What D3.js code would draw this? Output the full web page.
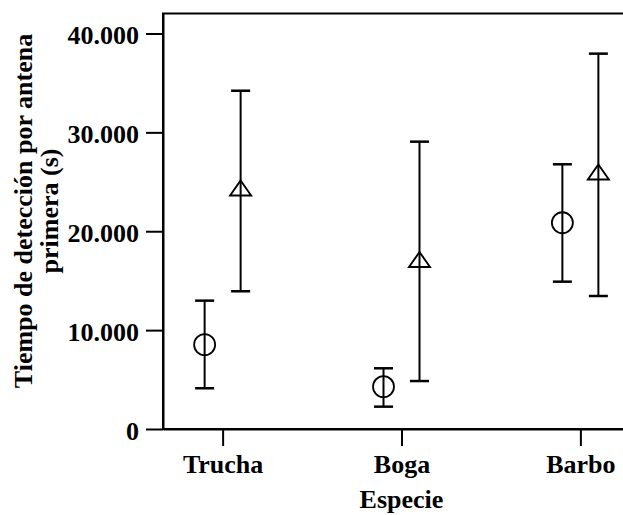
<!DOCTYPE html>
<html>
<head>
<meta charset="utf-8">
<script src="https://cdn.jsdelivr.net/npm/d3@7"></script>
<style>
    body { margin: 0; background: #fff; }
    svg text { font-family: "Liberation Serif", "Times New Roman", serif; font-weight: bold; fill: #000; }
</style>
</head>
<body>
<div id="chart"></div>
<script>
// Datos
const especies = ["Trucha", "Boga", "Barbo"];

// serie circulo
const circuloMedia = [8530, 4280, 20860];
const circuloInf = [4120, 2260, 14900];
const circuloSup = [12980, 6140, 26770];

// serie triangulo
const trianguloMedia = [24370, 17140, 25990];
const trianguloInf = [13930, 4850, 13450];
const trianguloSup = [34210, 29060, 37960];

const yTicks = [0, 10000, 20000, 30000, 40000];

const width = 623;
const height = 515;
const margin = { top: 13.5, left: 163, bottom: 86, right: -17 };

const svg = d3.select("#chart")
    .append("svg")
    .attr("width", width)
    .attr("height", height);

const x = d3.scalePoint()
    .domain(especies)
    .range([margin.left, width - margin.right])
    .padding(1 / 3);

const y = d3.scaleLinear()
    .domain([0, 42020])
    .range([height - margin.bottom, margin.top]);

const fmt = d3.formatLocale({ decimal: ",", thousands: ".", grouping: [3], currency: ["", ""] }).format(",");

// marco
svg.append("rect")
    .attr("x", margin.left)
    .attr("y", margin.top)
    .attr("width", width - margin.right - margin.left)
    .attr("height", y(0) - margin.top)
    .attr("fill", "none")
    .attr("stroke", "#000")
    .attr("stroke-width", 2);

// ejes
const gy = svg.append("g")
    .attr("transform", `translate(${margin.left},0)`)
    .call(d3.axisLeft(y).tickValues(yTicks).tickSize(17).tickSizeOuter(0).tickPadding(7).tickFormat(fmt));

const gx = svg.append("g")
    .attr("transform", `translate(0,${y(0)})`)
    .call(d3.axisBottom(x).tickSize(17).tickSizeOuter(0).tickPadding(9));

[gy, gx].forEach(g => {
    g.select(".domain").attr("stroke-width", 2);
    g.selectAll(".tick line").attr("stroke-width", 2);
    g.selectAll(".tick text").style("font-size", "26px");
});
gy.selectAll(".tick text").attr("dy", "0.4em");

// barras de error + marcadores
function dibujarSerie(media, inf, sup, dx, forma) {
    const g = svg.append("g");
    const cap = 9.5;

    g.selectAll("line.vert")
        .data(especies)
        .enter()
        .append("line")
        .attr("x1", d => x(d) + dx)
        .attr("x2", d => x(d) + dx)
        .attr("y1", (d, i) => y(inf[i]))
        .attr("y2", (d, i) => y(sup[i]))
        .attr("stroke", "#000")
        .attr("stroke-width", 2);

    [inf, sup].forEach(vals => {
        g.selectAll(null)
            .data(especies)
            .enter()
            .append("line")
            .attr("x1", d => x(d) + dx - cap)
            .attr("x2", d => x(d) + dx + cap)
            .attr("y1", (d, i) => y(vals[i]))
            .attr("y2", (d, i) => y(vals[i]))
            .attr("stroke", "#000")
            .attr("stroke-width", 2.5);
    });

    if (forma === "circulo") {
        g.selectAll("circle")
            .data(especies)
            .enter()
            .append("circle")
            .attr("cx", d => x(d) + dx)
            .attr("cy", (d, i) => y(media[i]))
            .attr("r", 10.5)
            .attr("fill", "none")
            .attr("stroke", "#000")
            .attr("stroke-width", 1.8);
    } else {
        const w = 10.5, h = 7.5;
        g.selectAll("path")
            .data(especies)
            .enter()
            .append("path")
            .attr("d", (d, i) => {
                const cx = x(d) + dx, cy = y(media[i]);
                return `M${cx},${cy - h}L${cx + w},${cy + h}L${cx - w},${cy + h}Z`;
            })
            .attr("fill", "none")
            .attr("stroke", "#000")
            .attr("stroke-width", 1.9)
            .attr("stroke-linejoin", "miter");
    }
}

dibujarSerie(circuloMedia, circuloInf, circuloSup, -18, "circulo");
dibujarSerie(trianguloMedia, trianguloInf, trianguloSup, 18, "triangulo");

// titulos de los ejes
svg.append("text")
    .attr("x", x("Boga"))
    .attr("y", 508)
    .attr("text-anchor", "middle")
    .style("font-size", "26px")
    .text("Especie");

const yTitle = svg.append("text")
    .attr("transform", "translate(32,211) rotate(-90)")
    .attr("text-anchor", "middle")
    .style("font-size", "26px");
yTitle.append("tspan").attr("x", 0).attr("y", 0).text("Tiempo de detección por antena");
yTitle.append("tspan").attr("x", 0).attr("y", 26).text("primera (s)");
</script>
</body>
</html>
